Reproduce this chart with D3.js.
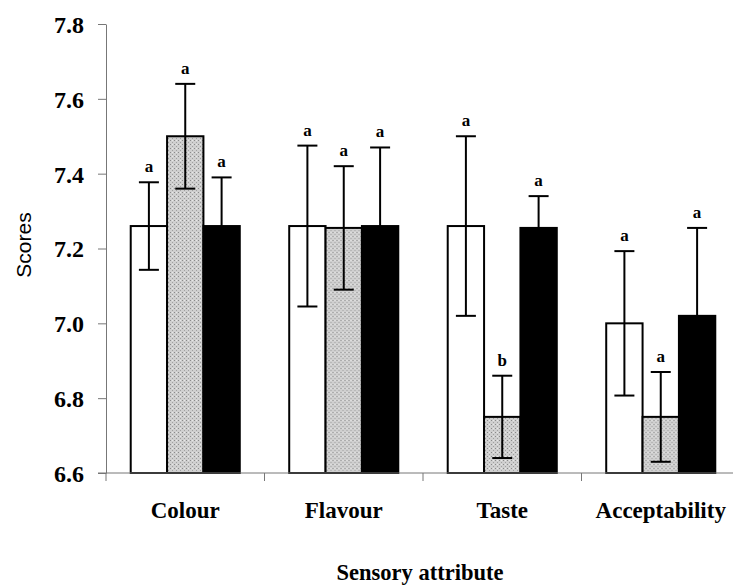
<!DOCTYPE html>
<html>
<head>
<meta charset="utf-8">
<script src="https://cdn.jsdelivr.net/npm/d3@7"></script>
<style>
  body { margin: 0; background: #fff; }
  svg { display: block; }
</style>
</head>
<body>
<svg id="chart" width="733" height="587"></svg>
<script>
// chart data
const categories = ['Colour', 'Flavour', 'Taste', 'Acceptability'];
const seriesNames = ['white', 'gray', 'black'];
const means = [
  [7.26, 7.50, 7.26],
  [7.26, 7.255, 7.26],
  [7.26, 6.75, 7.255],
  [7.00, 6.75, 7.02]
];
const errors = [
  [0.117, 0.14, 0.13],
  [0.215, 0.165, 0.21],
  [0.24, 0.11, 0.085],
  [0.193, 0.12, 0.235]
];
const letters = [
  ['a', 'a', 'a'],
  ['a', 'a', 'a'],
  ['a', 'b', 'a'],
  ['a', 'a', 'a']
];
const yTicks = [6.6, 6.8, 7.0, 7.2, 7.4, 7.6, 7.8];

const svg = d3.select('#chart');
const margin = { left: 106, right: -7, top: 24, bottom: 114 };
const width = 733, height = 587;

const x = d3.scaleBand()
  .domain(categories)
  .range([margin.left, width - margin.right])
  .paddingInner(0)
  .paddingOuter(0);

const xInner = d3.scaleBand()
  .domain(seriesNames)
  .range([0, x.bandwidth()])
  .paddingOuter(0.68)
  .paddingInner(0);

const y = d3.scaleLinear()
  .domain([6.6, 7.8])
  .range([height - margin.bottom, margin.top]);

// gray dotted fill
const defs = svg.append('defs');
const pat = defs.append('pattern')
  .attr('id', 'dots')
  .attr('patternUnits', 'userSpaceOnUse')
  .attr('width', 4)
  .attr('height', 4);
pat.append('rect').attr('width', 4).attr('height', 4).attr('fill', '#cfcfcf');
pat.append('rect').attr('x', 0).attr('y', 0).attr('width', 1).attr('height', 1).attr('fill', '#8a8a8a');
pat.append('rect').attr('x', 2).attr('y', 2).attr('width', 1).attr('height', 1).attr('fill', '#a0a0a0');
pat.append('rect').attr('x', 2).attr('y', 0).attr('width', 1).attr('height', 1).attr('fill', '#e8e8e8');

const fills = { white: '#ffffff', gray: 'url(#dots)', black: '#000000' };

// bars
const groups = svg.append('g')
  .selectAll('g')
  .data(categories)
  .join('g')
  .attr('transform', c => `translate(${x(c)},0)`);

groups.each(function (c, ci) {
  const g = d3.select(this);
  seriesNames.forEach((s, si) => {
    const v = means[ci][si];
    const e = errors[ci][si];
    const bx = xInner(s);
    const cx = bx + xInner.bandwidth() / 2;
    g.append('rect')
      .attr('x', bx)
      .attr('y', y(v))
      .attr('width', xInner.bandwidth())
      .attr('height', y(6.6) - y(v))
      .attr('fill', fills[s])
      .attr('stroke', '#000')
      .attr('stroke-width', 2);

    // error bar
    g.append('line')
      .attr('x1', cx).attr('x2', cx)
      .attr('y1', y(v + e)).attr('y2', y(v - e))
      .attr('stroke', '#000').attr('stroke-width', 2);
    [v + e, v - e].forEach(val => {
      g.append('line')
        .attr('x1', cx - 10).attr('x2', cx + 10)
        .attr('y1', y(val)).attr('y2', y(val))
        .attr('stroke', '#000').attr('stroke-width', 2);
    });

    g.append('text')
      .attr('x', cx)
      .attr('y', y(v + e) - 10)
      .attr('text-anchor', 'middle')
      .style('font-family', '"Liberation Serif", "Times New Roman", serif')
      .style('font-weight', 'bold')
      .style('font-size', '17px')
      .text(letters[ci][si]);
  });
});

// y axis
const yAxis = d3.axisLeft(y)
  .tickValues(yTicks)
  .tickFormat(d3.format('.1f'))
  .tickSize(8)
  .tickSizeOuter(0);

const yg = svg.append('g')
  .attr('transform', `translate(${margin.left},0)`)
  .call(yAxis);
yg.select('.domain').attr('stroke', '#777').attr('stroke-width', 1);
yg.selectAll('.tick line').attr('stroke', '#777');
yg.selectAll('.tick text')
  .attr('x', -22)
  .attr('dy', '0.35em')
  .style('font-family', '"Liberation Serif", "Times New Roman", serif')
  .style('font-weight', 'bold')
  .style('font-size', '24px')
  .style('fill', '#000');

// x axis
const xAxis = d3.axisBottom(x)
  .tickSize(0)
  .tickSizeOuter(0);
const xg = svg.append('g')
  .attr('transform', `translate(0,${y(6.6)})`)
  .call(xAxis);
xg.select('.domain').remove();
xg.append('line')
  .attr('x1', margin.left - 8).attr('x2', width)
  .attr('y1', 0).attr('y2', 0)
  .attr('stroke', '#777');
xg.selectAll('.sep')
  .data(categories.slice(1))
  .join('line')
  .attr('x1', c => x(c)).attr('x2', c => x(c))
  .attr('y1', 0).attr('y2', 8)
  .attr('stroke', '#777');
xg.append('line')
  .attr('x1', margin.left).attr('x2', margin.left)
  .attr('y1', 0).attr('y2', 8)
  .attr('stroke', '#777');
xg.selectAll('.tick text')
  .attr('y', 45)
  .attr('dy', 0)
  .style('font-family', '"Liberation Serif", "Times New Roman", serif')
  .style('font-weight', 'bold')
  .style('font-size', '23px')
  .style('fill', '#000');

// axis titles
svg.append('text')
  .attr('transform', 'translate(31,245) rotate(-90)')
  .attr('text-anchor', 'middle')
  .style('font-family', '"Liberation Sans", Arial, sans-serif')
  .style('font-size', '21px')
  .text('Scores');

svg.append('text')
  .attr('x', 420)
  .attr('y', 580)
  .attr('text-anchor', 'middle')
  .style('font-family', '"Liberation Serif", "Times New Roman", serif')
  .style('font-weight', 'bold')
  .style('font-size', '22.5px')
  .text('Sensory attribute');
</script>
</body>
</html>
